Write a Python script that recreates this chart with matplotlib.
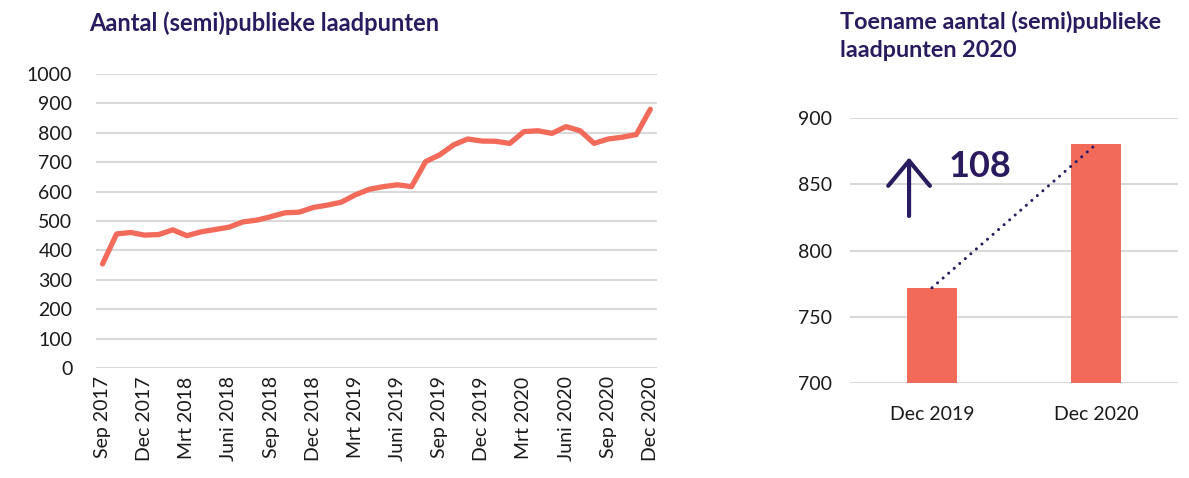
import matplotlib.pyplot as plt
import numpy as np

# Monthly number of (semi)public charging points, Sep 2017 - Dec 2020
months = ['Sep 2017', 'Okt 2017', 'Nov 2017', 'Dec 2017', 'Jan 2018', 'Feb 2018',
          'Mrt 2018', 'Apr 2018', 'Mei 2018', 'Juni 2018', 'Juli 2018', 'Aug 2018',
          'Sep 2018', 'Okt 2018', 'Nov 2018', 'Dec 2018', 'Jan 2019', 'Feb 2019',
          'Mrt 2019', 'Apr 2019', 'Mei 2019', 'Juni 2019', 'Juli 2019', 'Aug 2019',
          'Sep 2019', 'Okt 2019', 'Nov 2019', 'Dec 2019', 'Jan 2020', 'Feb 2020',
          'Mrt 2020', 'Apr 2020', 'Mei 2020', 'Juni 2020', 'Juli 2020', 'Aug 2020',
          'Sep 2020', 'Okt 2020', 'Nov 2020', 'Dec 2020']
laadpunten = [354, 456, 461, 452, 454, 470, 450, 463, 471, 479, 497, 503,
              515, 528, 530, 546, 554, 564, 589, 608, 617, 623, 617, 702,
              725, 759, 779, 772, 771, 764, 804, 807, 798, 821, 807, 764,
              779, 785, 794, 880]

bar_labels = ['Dec 2019', 'Dec 2020']
bar_values = [772, 880]
toename = bar_values[1] - bar_values[0]

RED = '#f26a5a'
PURPLE = '#2a1b5f'
GRID = '#d9d9d9'
TEXT = '#1a1a1a'

plt.rcParams['font.family'] = ['Lato', 'DejaVu Sans']

fig = plt.figure(figsize=(11.89, 4.78), dpi=100)

# Left: line chart
ax1 = fig.add_axes([0.0807, 0.2301, 0.4718, 0.6151])
x = np.arange(len(months))
ax1.plot(x, laadpunten, color=RED, lw=3.8, solid_capstyle='round', solid_joinstyle='round', zorder=3)
ax1.set_ylim(0, 1000)
ax1.set_xlim(-0.47, len(months) - 1 + 0.47)
ax1.set_yticks(range(0, 1001, 100))
ax1.set_xticks(x[::3])
ax1.set_xticklabels(months[::3], rotation=90, fontsize=14, color=TEXT)
ax1.tick_params(axis='y', labelsize=14, labelcolor=TEXT, pad=17, length=0)
ax1.tick_params(axis='x', pad=6, length=0)
ax1.grid(axis='y', color=GRID, lw=1.5)
ax1.set_axisbelow(True)
for s in ax1.spines.values():
    s.set_visible(False)

# Right: bar chart
ax2 = fig.add_axes([0.7149, 0.1981, 0.2759, 0.5556])
xb = np.arange(len(bar_labels))
ax2.bar(xb, bar_values, width=0.31, color=RED, zorder=3)
ax2.plot(xb, bar_values, color=PURPLE, lw=2.2, ls=(0, (0.01, 2.4)), dash_capstyle='round', zorder=4)
ax2.set_ylim(700, 900)
ax2.set_xlim(-0.5, 1.5)
ax2.set_yticks(range(700, 901, 50))
ax2.set_xticks(xb)
ax2.set_xticklabels(bar_labels, fontsize=14, color=TEXT)
ax2.tick_params(axis='y', labelsize=14, labelcolor=TEXT, pad=13, length=0)
ax2.tick_params(axis='x', pad=16, length=0)
ax2.grid(axis='y', color=GRID, lw=1.5)
ax2.set_axisbelow(True)
for s in ax2.spines.values():
    s.set_visible(False)

ax2.annotate('', xy=(-0.14, 870), xytext=(-0.14, 826),
             arrowprops=dict(arrowstyle='->,head_length=1.8,head_width=1.5', color=PURPLE, lw=3,
                             shrinkA=0, shrinkB=0))
ax2.text(0.1, 863, str(toename), fontsize=26, fontweight='bold', color=PURPLE, va='center', ha='left')

fig.text(0.0751, 0.952, 'Aantal (semi)publieke laadpunten', fontsize=17, fontweight='bold',
         color=PURPLE, va='center', ha='left')
fig.text(0.7065, 0.925, 'Toename aantal (semi)publieke\nlaadpunten 2020', fontsize=16.8,
         fontweight='bold', color=PURPLE, va='center', ha='left', linespacing=1.38)

fig.savefig('out.png', dpi=100, facecolor='white')
